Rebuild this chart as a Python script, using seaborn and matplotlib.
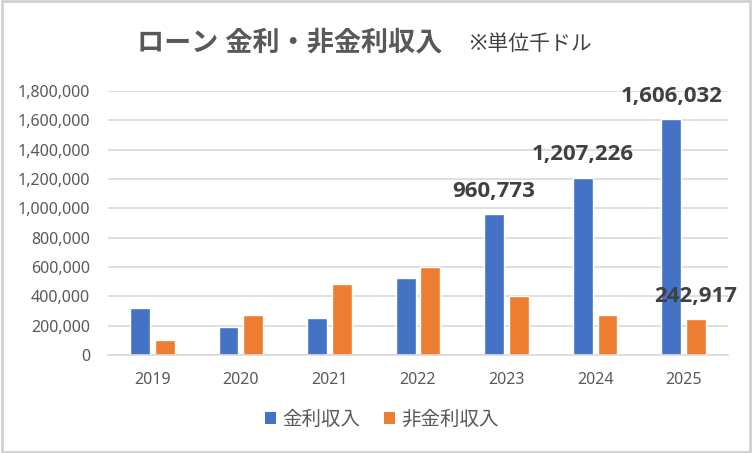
import matplotlib
matplotlib.use("Agg")
import matplotlib.pyplot as plt
from matplotlib.patches import Patch
import seaborn as sns
import pandas as pd

years = ["2019", "2020", "2021", "2022", "2023", "2024", "2025"]
interest = [322000, 193000, 254000, 527000, 960773, 1207226, 1606032]
non_interest = [104000, 275000, 482000, 602000, 402000, 273000, 242917]
series_names = ["金利収入", "非金利収入"]
# only some bars carry a value label in the original
interest_labels = [None, None, None, None, "960,773", "1,207,226", "1,606,032"]
non_interest_labels = [None, None, None, None, None, None, "242,917"]

df = pd.DataFrame({
    "year": years * 2,
    "value": interest + non_interest,
    "series": [series_names[0]] * len(years) + [series_names[1]] * len(years),
})

sns.set_style("white")
plt.rcParams["font.family"] = ["Noto Sans", "Noto Sans CJK JP", "DejaVu Sans"]

fig = plt.figure(figsize=(7.52, 4.53), dpi=100)
ax = fig.add_axes([108 / 752, 1 - 355 / 453, 620 / 752, 264 / 453])

colors = ["#4472c4", "#ed7d31"]
sns.barplot(data=df, x="year", y="value", hue="series", palette=colors,
            width=0.56, gap=0.2, ax=ax, legend=False, saturation=1)

ax.set_ylim(0, 1800000)
ax.set_xlim(-0.5, 6.5)
ax.set_yticks(range(0, 1800001, 200000))
ax.set_yticklabels([f"{v:,}" for v in range(0, 1800001, 200000)])
ax.tick_params(axis="y", length=0, pad=13, labelsize=11.5, labelcolor="#595959")
ax.tick_params(axis="x", length=0, pad=12, labelsize=11.5, labelcolor="#595959")
ax.set_xlabel("")
ax.set_ylabel("")
ax.grid(axis="y", color="#d9d9d9", linewidth=1.2)
ax.set_axisbelow(True)
for s in ["top", "right", "left"]:
    ax.spines[s].set_visible(False)
ax.spines["bottom"].set_color("#d9d9d9")
ax.spines["bottom"].set_linewidth(1.2)

# value labels
for cont, labels in zip(ax.containers, [interest_labels, non_interest_labels]):
    for bar, lab in zip(cont, labels):
        if lab is None:
            continue
        ax.annotate(lab, (bar.get_x() + bar.get_width() / 2, bar.get_height()),
                    xytext=(0, 9), textcoords="offset points", ha="center",
                    va="bottom", fontsize=16, fontweight="bold", color="#404040",
                    family=["Open Sans", "DejaVu Sans"])

# title
fig.text(137 / 752, 1 - 43 / 453, "ローン 金利・非金利収入", fontsize=19.5,
         fontweight="bold", color="#595959", va="center", ha="left")
fig.text(470 / 752, 1 - 45 / 453, "※単位千ドル", fontsize=15,
         color="#404040", va="center", ha="left")

# legend
handles = [Patch(facecolor=c, edgecolor="none") for c in colors]
fig.legend(handles, series_names, loc="center", bbox_to_anchor=(382 / 752, 1 - 420 / 453),
           ncol=2, frameon=False, fontsize=14, handlelength=0.55, handleheight=0.55,
           handletextpad=0.35, columnspacing=1.2, labelcolor="#595959")

# outer frame
fig.patches.append(plt.Rectangle((0.002, 0.003), 0.995, 0.994, transform=fig.transFigure,
                                 fill=False, edgecolor="#d0d0d0", linewidth=2))

fig.savefig("out.png", dpi=100)
